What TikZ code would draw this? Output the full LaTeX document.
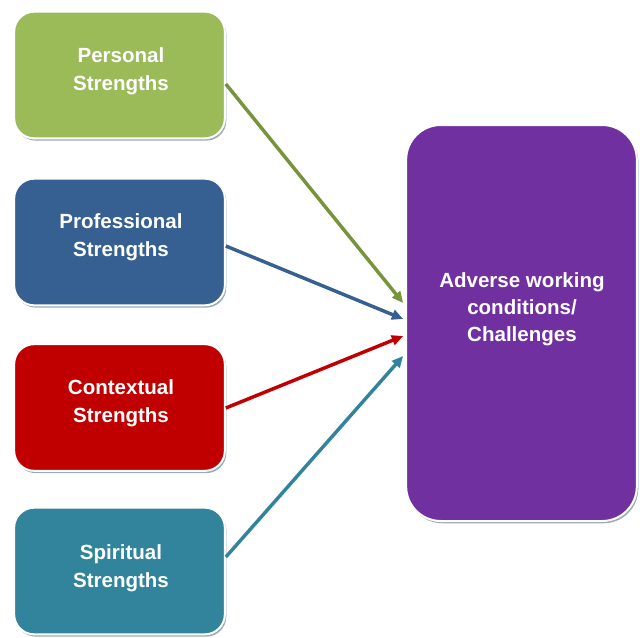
\documentclass[tikz,border=0pt]{standalone}
\usepackage{fontspec}
\setmainfont{Liberation Sans}
\usetikzlibrary{arrows.meta,calc,shadows}
\definecolor{pgreen}{HTML}{9BBB59}
\definecolor{pblue}{HTML}{376092}
\definecolor{pred}{HTML}{C00000}
\definecolor{pteal}{HTML}{31849B}
\definecolor{ppurple}{HTML}{7030A0}
\definecolor{agreen}{HTML}{77933C}
\definecolor{shadowc}{HTML}{97ABB3}
\begin{document}
\begin{tikzpicture}[x=0.75pt,y=-0.75pt,
  sbox/.style={draw=white, line width=1.5pt, rounded corners=15pt,
    minimum width=158pt, minimum height=95pt, inner sep=0pt,
    general shadow={fill=shadowc, shadow xshift=1.1pt, shadow yshift=-1.7pt}},
  bigbox/.style={sbox, rounded corners=26pt, minimum width=173pt, minimum height=297pt},
  lbl/.style={text=white, font=\fontsize{15.4}{21}\selectfont\bfseries, align=center, inner sep=0pt},
  conn/.style={line width=2.6pt, -{Triangle[length=8.5pt,width=7.5pt]}}]
\useasboundingbox (0,0) rectangle (640,637);
\node[sbox, fill=pgreen]  (p) at (119.5,75) {};
\node[sbox, fill=pblue]   (q) at (119.5,242) {};
\node[sbox, fill=pred]    (c) at (119.5,407.5) {};
\node[sbox, fill=pteal]   (s) at (119.5,571) {};
\node[bigbox, fill=ppurple] (a) at (521.5,323) {};
\node[lbl] (t1) at (121,71)  {Personal\\Strengths};
\node[lbl] (t2) at (121,237) {Professional\\Strengths};
\node[lbl] (t3) at (121,403) {Contextual\\Strengths};
\node[lbl] (t4) at (121,568) {Spiritual\\Strengths};
\node[lbl, font=\fontsize{15.4}{20.3}\selectfont\bfseries] (t5) at (522,309) {Adverse working\\conditions/\\Challenges};
\draw[conn, draw=agreen] ($(p.east)+(0,9)$)   -- ($(a.west)+(-2,-20)$);
\draw[conn, draw=pblue]  ($(q.east)+(0,4)$)   -- ($(a.west)+(-2,-4)$);
\draw[conn, draw=pred]   ($(c.east)+(0,0.5)$) -- ($(a.west)+(-2,13)$);
\draw[conn, draw=pteal]  ($(s.east)+(0,-14)$) -- ($(a.west)+(-2,33)$);
\end{tikzpicture}
\end{document}
